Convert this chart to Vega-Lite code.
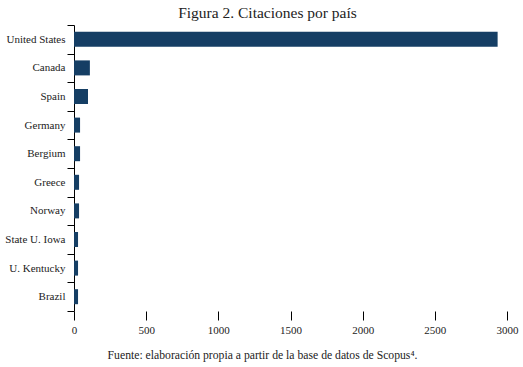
{
  "$schema": "https://vega.github.io/schema/vega-lite/v6.json",
  "autosize": "none",
  "width": 433,
  "height": 286,
  "padding": {"left": 74, "top": 25, "right": 16, "bottom": 56},
  "background": "white",
  "title": {
    "text": "Figura 2. Citaciones por país",
    "fontSize": 15.5,
    "fontWeight": "normal",
    "color": "#222222",
    "anchor": "middle",
    "dx": -23,
    "dy": 8,
    "offset": 6
  },
  "data": {
    "values": [
      {"pais": "United States", "citas": 2935},
      {"pais": "Canada", "citas": 110},
      {"pais": "Spain", "citas": 97},
      {"pais": "Germany", "citas": 42},
      {"pais": "Bergium", "citas": 42},
      {"pais": "Greece", "citas": 35},
      {"pais": "Norway", "citas": 35},
      {"pais": "State U. Iowa", "citas": 28},
      {"pais": "U. Kentucky", "citas": 28},
      {"pais": "Brazil", "citas": 28}
    ]
  },
  "mark": {"type": "bar", "color": "#153e64", "height": 15},
  "encoding": {
    "y": {
      "field": "pais",
      "type": "nominal",
      "sort": null,
      "scale": {"paddingInner": 0, "paddingOuter": 0},
      "axis": {
        "title": null,
        "domain": true,
        "domainColor": "#000000",
        "domainWidth": 1,
        "ticks": true,
        "tickBand": "extent",
        "tickColor": "#000000",
        "tickSize": 7,
        "labelPadding": 2,
        "labelFontSize": 11,
        "labelColor": "#222222",
        "grid": false
      }
    },
    "x": {
      "field": "citas",
      "type": "quantitative",
      "scale": {"domain": [0, 3000], "nice": false},
      "axis": {
        "title": "Fuente: elaboración propia a partir de la base de datos de Scopus⁴.",
        "titleFontSize": 11.7,
        "titleFontWeight": "normal",
        "titleColor": "#222222",
        "titleX": 188,
        "titleY": 43,
        "titleAlign": "center",
        "titleBaseline": "middle",
        "values": [0, 500, 1000, 1500, 2000, 2500, 3000],
        "format": "d",
        "domain": false,
        "grid": false,
        "tickColor": "#000000",
        "tickSize": 9,
        "labelPadding": 4,
        "labelFontSize": 11,
        "labelColor": "#222222",
        "labelFlush": false
      }
    }
  },
  "config": {
    "view": {"stroke": null},
    "font": "Liberation Serif",
    "axis": {"labelFont": "Liberation Serif", "titleFont": "Liberation Serif"},
    "title": {"font": "Liberation Serif"}
  }
}
